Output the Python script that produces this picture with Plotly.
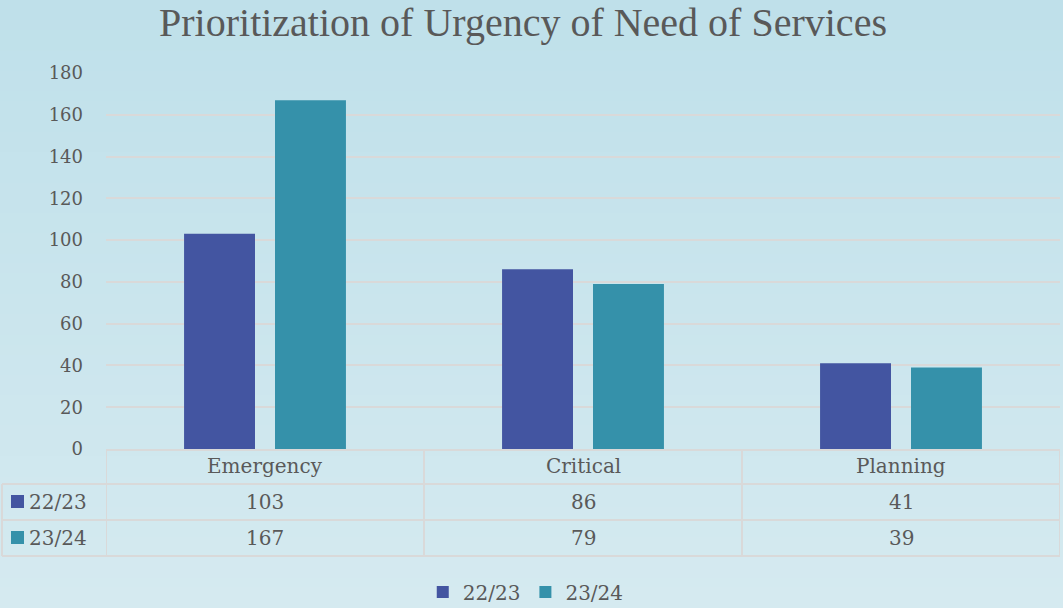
import plotly.graph_objects as go

categories = ["Emergency", "Critical", "Planning"]
series_names = ["22/23", "23/24"]
values_2223 = [103, 86, 41]
values_2324 = [167, 79, 39]
y_ticks = [0, 20, 40, 60, 80, 100, 120, 140, 160, 180]

colors = ["#4355a1", "#3591aa"]
text_color = "#595959"
grid_color = "#d9d9d9"
font_family = "DejaVu Serif"

W, H = 1063, 608
ML, MR, MT, MB = 106, 3, 73, 159
plot_w = W - ML - MR
plot_h = H - MT - MB


def px_to_paper_x(px):
    return (px - ML) / plot_w


def px_to_paper_y(py):
    return (H - MB - py) / plot_h


fig = go.Figure()
for name, vals, col in zip(series_names, [values_2223, values_2324], colors):
    fig.add_trace(go.Bar(x=categories, y=vals, name=name, marker_color=col,
                         marker_line_width=0))

shapes = []
# vertical gradient background built from thin bands
top = (191, 224, 234)
bot = (213, 234, 240)
n_bands = 60
for i in range(n_bands):
    t = i / (n_bands - 1)
    c = tuple(round(top[k] + (bot[k] - top[k]) * t) for k in range(3))
    y0 = i * H / n_bands
    y1 = (i + 1) * H / n_bands + 1
    shapes.append(dict(type="rect", xref="paper", yref="paper",
                       x0=px_to_paper_x(0), x1=px_to_paper_x(W),
                       y0=px_to_paper_y(y1), y1=px_to_paper_y(y0),
                       fillcolor="rgb(%d,%d,%d)" % c, line_width=0,
                       layer="below"))

# data table under the axis
row_lines = [484, 520, 556]
table_left = 2
table_right = ML + plot_w
line_style = dict(color=grid_color, width=2)
for py in row_lines:
    shapes.append(dict(type="line", xref="paper", yref="paper",
                       x0=px_to_paper_x(table_left), x1=px_to_paper_x(table_right),
                       y0=px_to_paper_y(py), y1=px_to_paper_y(py), line=line_style))
for i in range(len(categories) + 1):
    shapes.append(dict(type="line", xref="x", yref="paper",
                       x0=i - 0.5, x1=i - 0.5,
                       y0=px_to_paper_y(449), y1=px_to_paper_y(556), line=line_style))
shapes.append(dict(type="line", xref="paper", yref="paper",
                   x0=px_to_paper_x(table_left), x1=px_to_paper_x(table_left),
                   y0=px_to_paper_y(484), y1=px_to_paper_y(556), line=line_style))

annotations = []
row_centers = [466, 502, 538]
cell_font = dict(family=font_family, size=20, color=text_color)
for i, cat in enumerate(categories):
    annotations.append(dict(x=i, y=px_to_paper_y(row_centers[0]), xref="x", yref="paper",
                            text=cat, showarrow=False, xanchor="center", yanchor="middle",
                            font=cell_font))
for r, (name, vals, col) in enumerate(zip(series_names, [values_2223, values_2324], colors)):
    yc = row_centers[r + 1]
    shapes.append(dict(type="rect", xref="paper", yref="paper",
                       x0=px_to_paper_x(11), x1=px_to_paper_x(24),
                       y0=px_to_paper_y(yc + 6), y1=px_to_paper_y(yc - 7),
                       fillcolor=col, line_width=0))
    annotations.append(dict(x=px_to_paper_x(27), y=px_to_paper_y(yc), xref="paper", yref="paper",
                            text=name, showarrow=False, xanchor="left", yanchor="middle",
                            font=cell_font))
    for i, v in enumerate(vals):
        annotations.append(dict(x=i, y=px_to_paper_y(yc), xref="x", yref="paper",
                                text=str(v), showarrow=False, xanchor="center",
                                yanchor="middle", font=cell_font))

fig.update_layout(
    width=W, height=H,
    margin=dict(l=ML, r=MR, t=MT, b=MB, autoexpand=False),
    paper_bgcolor="#c9e5ed",
    plot_bgcolor="rgba(0,0,0,0)",
    title=dict(text="Prioritization of Urgency of Need of Services",
               x=0.492, xref="container", xanchor="center",
               y=1 - 22 / H, yref="container", yanchor="middle",
               font=dict(family="Liberation Serif", size=40, color=text_color)),
    font=dict(family=font_family, color=text_color),
    barmode="group",
    bargap=0.428,
    bargroupgap=0.22,
    xaxis=dict(range=[-0.5, 2.5], showticklabels=False, showgrid=False,
               showline=True, linecolor=grid_color, linewidth=2, ticks=""),
    yaxis=dict(range=[0, 180], tickvals=y_ticks, showgrid=True, gridcolor=grid_color,
               gridwidth=2, zeroline=False, showline=False,
               tickfont=dict(family=font_family, size=18, color=text_color),
               ticklabelstandoff=22),
    legend=dict(orientation="h", x=0.44, xanchor="center", y=px_to_paper_y(592),
                yanchor="middle", font=dict(family=font_family, size=20, color=text_color),
                bgcolor="rgba(0,0,0,0)", itemwidth=30),
    shapes=shapes,
    annotations=annotations,
)

fig.write_html("out.html")
